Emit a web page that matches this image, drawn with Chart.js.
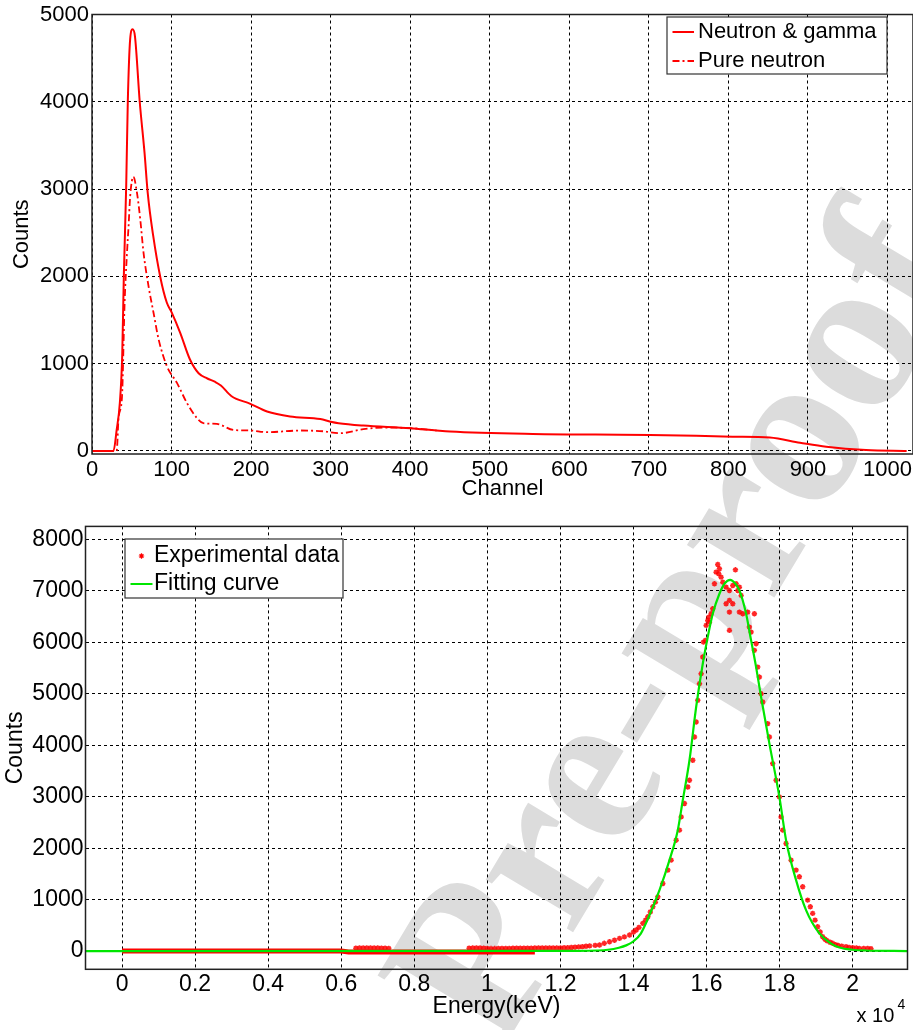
<!DOCTYPE html>
<html>
<head>
<meta charset="utf-8">
<title>Neutron spectra</title>
<script src="https://cdn.jsdelivr.net/npm/chart.js@4.4.1/dist/chart.umd.min.js"></script>
<style>
    html, body { margin: 0; padding: 0; background: #fff; }
    #page { position: relative; width: 913px; height: 1030px; overflow: hidden; }
    #watermark {
        position: absolute; left: 672px; top: 622px;
        transform: translate(-50%, -50%) rotate(-59deg);
        font: bold 222px 'Liberation Serif', 'Times New Roman', serif;
        line-height: 1; color: #dcdcdc; white-space: nowrap;
    }
    canvas { position: absolute; left: 0; }
    #top-chart { top: 0; }
    #bottom-chart { top: 500px; }
</style>
</head>
<body>
<div id="page">
    <div id="watermark">Pre-proof</div>
    <canvas id="top-chart" width="913" height="500"></canvas>
    <canvas id="bottom-chart" width="913" height="530"></canvas>
</div>
<script>
// --- Top panel: pulse height spectra ---
const channelNG = [0, 27, 31, 35, 38, 40, 43, 45, 48, 51, 54, 60, 66, 70, 77, 86, 94, 100, 111, 123, 134, 145, 155, 162, 175, 199, 220, 249, 287, 300, 310, 341, 400, 433, 450, 554, 701, 805, 852, 890, 923, 973, 1024];
const countsNG = [0, 0, 240, 550, 1100, 2000, 3040, 4000, 4720, 4830, 4750, 4000, 3420, 2960, 2460, 1985, 1700, 1590, 1350, 1050, 890, 830, 790, 750, 630, 540, 452, 395, 365, 335, 318, 291, 261, 234, 222, 195, 184, 164, 153, 95, 49, 11, 0];
const channelPN = [0, 31, 33.5, 37.7, 41, 44, 46, 48, 52, 56.5, 60.7, 64.8, 71, 77.4, 83.7, 94.2, 106.8, 119.3, 132, 140, 157, 178, 199, 220, 262, 291, 312, 341, 366, 400, 433];
const countsPN = [0, 0, 390, 620, 1700, 2270, 2580, 2920, 3140, 2960, 2650, 2270, 1890, 1580, 1280, 970, 780, 550, 376, 318, 310, 240, 234, 215, 234, 225, 203, 249, 268, 261, 234];
const channelTicks = [0, 100, 200, 300, 400, 500, 600, 700, 800, 900, 1000];
const countTicksTop = [0, 1000, 2000, 3000, 4000, 5000];

// --- Bottom panel: energy spectrum and fit ---
const energyExp = [
    6400, 6500, 6600, 6700, 6800, 6900, 7000, 7100, 7200, 7300,
    9500, 9600, 9700, 9800, 9900, 10000, 10100, 10200, 10300, 10400, 10500, 10600, 10700,
    10800, 10900, 11000, 11100, 11200, 11300, 11400, 11500, 11600, 11700, 11800, 11900,
    12000, 12100, 12200, 12300, 12400, 12500, 12600, 12700, 12800, 12950, 13070, 13200, 13344, 13480, 13618, 13750, 13892, 14000, 14074, 14150, 14255, 14330, 14392, 14460, 14529, 14600, 14666,
    14802, 14939, 15031, 15168, 15259, 15305, 15395, 15486, 15532, 15623, 15669, 15715, 15759, 15806, 15851, 15896, 15915, 15969, 15988, 16032, 16060, 16079, 16125, 16169,
    16216, 16261, 16306, 16333, 16352, 16398, 16443, 16535, 16535, 16626, 16626, 16626, 16626, 16717, 16717, 16790, 16808, 16854, 16899, 16899, 16946, 16990,
    17126, 17172, 17219, 17309, 17309, 17356, 17400, 17446, 17492, 17536, 17673, 17720, 17810, 17903, 17993, 18039, 18084, 18176, 18313, 18450, 18540, 18631,
    18767, 18840, 18904, 18970, 19040, 19110, 19177, 19240, 19300, 19380, 19451, 19530, 19600, 19700, 19817, 19900, 20000, 20100, 20181, 20300, 20408, 20500
];
const countsExp = [
    55, 58, 60, 62, 60, 58, 60, 57, 55, 52,
    55, 58, 60, 58, 55, 50, 48, 48, 50, 50, 52, 52, 53,
    54, 55, 55, 56, 57, 58, 58, 59, 60, 61, 62, 62,
    60, 63, 65, 70, 75, 80, 85, 92, 100, 110, 117, 150, 181, 210, 246, 275, 311, 370, 408, 460, 538, 600, 666, 760, 860, 950, 1054,
    1314, 1573, 1767, 2155, 2350, 2608, 2868, 3190, 3320, 3709, 4161, 4453, 4874, 5198, 5392, 5715, 6006, 6039, 6330, 6427, 6492, 6394, 6557, 6654,
    7139, 7366, 7515, 7334, 7431, 7268, 7171, 7074, 6751, 7010, 6816, 6589, 6233, 7107, 6751, 7411, 7139, 7010, 7074, 6589, 6913, 6557,
    6589, 6297, 6200, 6557, 5845, 5975, 5520, 5326, 5004, 4841, 4421, 4161, 3644, 3320, 2996, 2608, 2350, 2091, 1767, 1573, 1443, 1249,
    990, 860, 732, 600, 472, 370, 278, 230, 200, 170, 150, 125, 110, 95, 84, 72, 65, 58, 52, 50, 52, 45
];
// low channels where the markers merge into one band
const energyBase = [0, 6000, 6200, 11300];
const countsBase = [0, 0, -20, -20];
const energyFit = [-1000, 12500, 13000, 13300, 13600, 13800, 14000, 14200, 14438, 14711, 14985, 15212, 15349, 15532, 15715, 15896, 16032, 16169, 16352, 16500, 16645, 16780, 16899, 17082, 17219, 17356, 17492, 17720, 17993, 18176, 18450, 18723, 19087, 19400, 19634, 20000, 20364, 21500];
const countsFit = [0, 3, 10, 25, 65, 110, 190, 340, 700, 1184, 1767, 2350, 2932, 3709, 4744, 5586, 6103, 6557, 6946, 7150, 7217, 7150, 7010, 6557, 6039, 5520, 4938, 4033, 2996, 2155, 1379, 796, 343, 150, 70, 25, 10, 0];
const energyTicks = [0, 2000, 4000, 6000, 8000, 10000, 12000, 14000, 16000, 18000, 20000];
const energyTickLabels = ['0', '0.2', '0.4', '0.6', '0.8', '1', '1.2', '1.4', '1.6', '1.8', '2'];
const countTicksBottom = [0, 1000, 2000, 3000, 4000, 5000, 6000, 7000, 8000];

const RED = '#ff0000';
const GREEN = '#00e600';

Chart.defaults.font.family = "'Liberation Sans', Arial, sans-serif";
Chart.defaults.color = '#000';

function pairs(xs, ys) {
    return xs.map((x, i) => ({ x: x, y: ys[i] }));
}

function axis(o) {
    return {
        type: 'linear',
        min: o.min,
        max: o.max,
        afterBuildTicks: s => { s.ticks = o.ticks.map(v => ({ value: v })); },
        afterFit: s => {
            if (o.width) s.width = o.width;
            if (o.height) s.height = o.height;
            s.paddingLeft = s.paddingRight = s.paddingTop = s.paddingBottom = 0;
        },
        grid: { color: '#000', lineWidth: 1, drawTicks: false },
        border: { display: false, dash: [3, 3] },
        ticks: {
            autoSkip: false, maxRotation: 0, padding: o.pad,
            font: { size: o.font }, color: '#000',
            callback: o.label || (v => String(v))
        },
        title: {
            display: true, text: o.title, color: '#000',
            font: { size: o.font, lineHeight: o.titleLH },
            padding: o.titlePad
        }
    };
}

// frame round the plot area, legend box and the axis exponent
const frameAndLegend = {
    id: 'frameAndLegend',
    afterDraw(chart, args, opts) {
        const ctx = chart.ctx;
        const a = chart.chartArea;
        ctx.save();
        ctx.strokeStyle = '#222';
        ctx.lineWidth = 1.5;
        ctx.setLineDash([]);
        ctx.strokeRect(a.left, a.top, a.right - a.left, a.bottom - a.top);

        const L = opts.legend;
        const bx = L.fromRight ? a.right - L.dx - L.width : a.left + L.dx;
        const by = a.top + L.dy;
        ctx.fillStyle = '#fff';
        ctx.fillRect(bx, by, L.width, L.height);
        ctx.lineWidth = 1.2;
        ctx.strokeStyle = '#333';
        ctx.strokeRect(bx, by, L.width, L.height);

        ctx.font = L.font + "px 'Liberation Sans', Arial, sans-serif";
        ctx.textBaseline = 'middle';
        ctx.textAlign = 'left';
        L.items.forEach((item, i) => {
            const y = by + L.rows[i];
            if (item.kind === 'point') {
                ctx.strokeStyle = item.color;
                ctx.fillStyle = item.color;
                Chart.helpers.drawPoint(ctx, { pointStyle: 'star', radius: 2.7, borderWidth: 1.5 }, bx + L.marker, y);
            } else {
                ctx.strokeStyle = item.color;
                ctx.lineWidth = 2;
                ctx.setLineDash(item.dash || []);
                ctx.beginPath();
                ctx.moveTo(bx + L.sample[0], y);
                ctx.lineTo(bx + L.sample[1], y);
                ctx.stroke();
                ctx.setLineDash([]);
            }
            ctx.fillStyle = '#000';
            ctx.fillText(item.label, bx + L.text, y);
        });

        if (opts.exponent) {
            ctx.fillStyle = '#000';
            ctx.font = "20px 'Liberation Sans', Arial, sans-serif";
            ctx.fillText('x 10', a.right - 51, a.bottom + 47.5);
            ctx.font = "14px 'Liberation Sans', Arial, sans-serif";
            ctx.fillText(opts.exponent, a.right - 10, a.bottom + 36);
        }
        ctx.restore();
    }
};

new Chart(document.getElementById('top-chart'), {
    type: 'line',
    data: {
        datasets: [
            {
                label: 'Neutron & gamma',
                data: pairs(channelNG, countsNG),
                borderColor: RED, borderWidth: 2,
                pointRadius: 0, cubicInterpolationMode: 'monotone'
            },
            {
                label: 'Pure neutron',
                data: pairs(channelPN, countsPN),
                borderColor: RED, borderWidth: 1.8, borderDash: [7, 3, 2, 3],
                pointRadius: 0, cubicInterpolationMode: 'monotone'
            }
        ]
    },
    options: {
        responsive: false,
        animation: false,
        layout: { padding: { top: 14.5, right: 0, bottom: 0, left: 0 } },
        scales: {
            x: axis({ min: 0, max: 1032, ticks: channelTicks, height: 46, pad: 3, font: 22,
                      title: 'Channel', titleLH: 1, titlePad: { top: 0, bottom: 0 } }),
            y: axis({ min: -35, max: 5000, ticks: countTicksTop, width: 92, pad: 3, font: 22,
                      title: 'Counts', titleLH: 1.2, titlePad: { top: 9, bottom: 0 } })
        },
        plugins: {
            legend: { display: false },
            tooltip: { enabled: false },
            frameAndLegend: {
                legend: {
                    fromRight: true, dx: 26, dy: 2.5, width: 220, height: 57, font: 22,
                    rows: [15, 44], sample: [5.5, 27], text: 31,
                    items: [
                        { label: 'Neutron & gamma', kind: 'line', color: RED },
                        { label: 'Pure neutron', kind: 'line', color: RED, dash: [7, 3, 2, 3] }
                    ]
                }
            }
        }
    },
    plugins: [frameAndLegend]
});

new Chart(document.getElementById('bottom-chart'), {
    type: 'line',
    data: {
        datasets: [
            {
                label: 'Fitting curve',
                data: pairs(energyFit, countsFit),
                borderColor: GREEN, borderWidth: 2.2,
                pointRadius: 0, cubicInterpolationMode: 'monotone',
                order: 0
            },
            {
                label: 'Experimental data',
                data: pairs(energyExp, countsExp),
                showLine: false,
                pointStyle: 'star', pointRadius: 2.7, pointBorderWidth: 1.5,
                pointBorderColor: 'rgba(255,0,0,0.85)', pointBackgroundColor: 'rgba(255,0,0,0.85)',
                order: 1
            },
            {
                label: 'Experimental data (low channels)',
                data: pairs(energyBase, countsBase),
                borderColor: RED, borderWidth: 5,
                pointRadius: 0,
                order: 2
            }
        ]
    },
    options: {
        responsive: false,
        animation: false,
        layout: { padding: { top: 26.4, right: 5, bottom: 0, left: 0 } },
        scales: {
            x: axis({ min: -1000, max: 21500, ticks: energyTicks, height: 60.7, pad: 2, font: 23,
                      label: v => energyTickLabels[energyTicks.indexOf(v)],
                      title: 'Energy(keV)', titleLH: 1, titlePad: { top: 0, bottom: 11.5 } }),
            y: axis({ min: -355, max: 8255, ticks: countTicksBottom, width: 85.5, pad: 2, font: 23,
                      title: 'Counts', titleLH: 1.2, titlePad: { top: 2, bottom: 0 } })
        },
        plugins: {
            legend: { display: false },
            tooltip: { enabled: false },
            frameAndLegend: {
                exponent: '4',
                legend: {
                    fromRight: false, dx: 39.5, dy: 12.6, width: 218, height: 59, font: 23,
                    rows: [17, 45], sample: [5.5, 27.5], marker: 16.5, text: 29,
                    items: [
                        { label: 'Experimental data', kind: 'point', color: RED },
                        { label: 'Fitting curve', kind: 'line', color: GREEN }
                    ]
                }
            }
        }
    },
    plugins: [frameAndLegend]
});
</script>
</body>
</html>
